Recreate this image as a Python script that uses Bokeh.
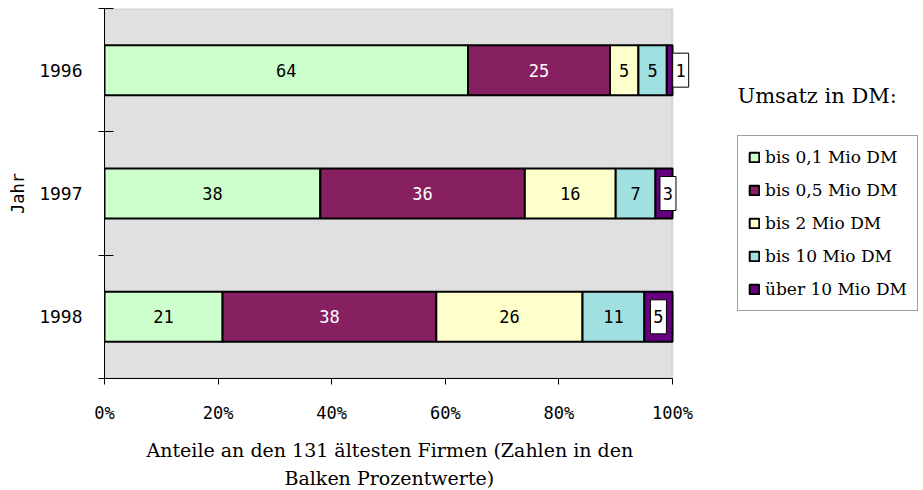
from bokeh.plotting import figure
from bokeh.models import (ColumnDataSource, Legend, LegendItem, FixedTicker,
                          PrintfTickFormatter, Range1d, Label, BoxAnnotation, Title)
from bokeh.embed import file_html
from bokeh.resources import INLINE

# ---------------- data ----------------
years = ["1996", "1997", "1998"]
series = ["bis 0,1 Mio DM", "bis 0,5 Mio DM", "bis 2 Mio DM", "bis 10 Mio DM", "über 10 Mio DM"]
v_01 = [64, 38, 21]
v_05 = [25, 36, 38]
v_2 = [5, 16, 26]
v_10 = [5, 7, 11]
v_over = [1, 3, 5]
x_ticks = [0, 20, 40, 60, 80, 100]
legend_title = "Umsatz in DM:"
x_title_lines = ["Anteile an den 131 ältesten Firmen (Zahlen in den", "Balken Prozentwerte)"]
y_title = "Jahr"

# ---------------- style ----------------
colors = ["#ccffcc", "#862060", "#ffffcc", "#a0e0e0", "#660080"]
text_colors = ["black", "white", "black", "black", "black"]
boxed = [False, False, False, False, True]
box_offset_px = [11, 4, 0]      # screen offset of the small boxed labels
x_title_offset_px = [42, 180]   # left offset of each title line (centres them under 0..100 %)
MONO = "DejaVu Sans Mono"
SERIF = "DejaVu Serif"

W, H = 923, 490
LEFT, TOP, BOTTOM = 104, 8, 112
PLOT_W = 568                     # pixel width of the 0..100 % scale
FW, FH = W - LEFT, H - TOP - BOTTOM
PX = 100 / PLOT_W                # % per pixel
PY = 3 / FH                      # y units per pixel
X_END = FW * PX

values = [v_01, v_05, v_2, v_10, v_over]
ypos = [3, 2, 1]  # 1996 on top
totals = [sum(v[i] for v in values) for i in range(len(years))]

p = figure(frame_width=FW, frame_height=FH, output_backend="svg", toolbar_location=None,
           x_range=Range1d(0, X_END), y_range=Range1d(0.5, 3.5),
           min_border_left=LEFT, min_border_right=0, min_border_top=TOP, min_border_bottom=BOTTOM)
p.background_fill_color = "white"
p.border_fill_color = "white"
p.outline_line_color = None
p.xgrid.visible = False
p.ygrid.visible = False

# gray plot area covering the 0..100 % domain
p.add_layout(BoxAnnotation(left=0, right=100, fill_color="#e0e0e0", fill_alpha=1.0,
                           line_color="#a0a0a0", line_width=2, level="underlay"))

cum = [0.0] * len(years)
items = []
for s, (name, vals) in enumerate(zip(series, values)):
    left = [cum[i] for i in range(len(years))]
    right = [cum[i] + vals[i] / totals[i] * 100 for i in range(len(years))]
    cum = right
    src = ColumnDataSource(dict(y=ypos, left=left, right=right,
                                xc=[(l + r) / 2 for l, r in zip(left, right)],
                                lab=[str(v) for v in vals]))
    r = p.hbar(y="y", left="left", right="right", height=0.405, source=src,
               fill_color=colors[s], line_color="black", line_width=2)
    items.append(LegendItem(label=name, renderers=[r]))
    if boxed[s]:
        bx = [xc + off * PX for xc, off in zip(src.data["xc"], box_offset_px)]
        bsrc = ColumnDataSource(dict(x=bx, y=ypos, lab=src.data["lab"]))
        p.rect(x="x", y="y", width=16, height=34, width_units="screen", height_units="screen",
               source=bsrc, fill_color="white", line_color="black", line_width=1)
        p.text(x="x", y="y", text="lab", source=bsrc, text_align="center", text_baseline="middle",
               text_font={"value": MONO}, text_font_size="17px", text_color="black")
    else:
        p.text(x="xc", y="y", text="lab", source=src, text_align="center", text_baseline="middle",
               text_font={"value": MONO}, text_font_size="17px", text_color=text_colors[s])

# x axis
p.xaxis.bounds = (0, 100)
p.xaxis.ticker = FixedTicker(ticks=x_ticks)
p.xaxis.formatter = PrintfTickFormatter(format="%d%%")
p.xaxis.major_label_text_font = MONO
p.xaxis.major_label_text_font_size = "17px"
p.xaxis.major_label_text_color = "black"
p.xaxis.major_tick_out = 6
p.xaxis.major_tick_in = 0
p.xaxis.major_label_standoff = 18
p.xaxis.minor_tick_line_color = None
p.xaxis.axis_line_color = "black"
p.xaxis.major_tick_line_color = "black"

# spacer, then the two-line x axis title (below the axis)
p.add_layout(Title(text=" ", standoff=5, text_font_size="2px"), "below")
for line, off in zip(x_title_lines, x_title_offset_px):
    p.add_layout(Title(text=line, align="left", offset=off, standoff=4,
                       text_font=SERIF, text_font_size="19px", text_font_style="normal",
                       text_color="black"), "below")

# y axis
p.yaxis.ticker = FixedTicker(ticks=ypos, minor_ticks=[0.5, 1.5, 2.5, 3.5])
p.yaxis.major_label_overrides = {y: yr for y, yr in zip(ypos, years)}
p.yaxis.major_label_text_font = MONO
p.yaxis.major_label_text_font_size = "18px"
p.yaxis.major_label_text_color = "black"
p.yaxis.major_tick_line_color = None
p.yaxis.major_tick_out = 0
p.yaxis.major_tick_in = 0
p.yaxis.major_label_standoff = 16
p.yaxis.minor_tick_line_color = "black"
p.yaxis.minor_tick_out = 6
p.yaxis.minor_tick_in = 9
p.yaxis.axis_line_color = "black"
p.yaxis.axis_label = y_title
p.yaxis.axis_label_text_font = MONO
p.yaxis.axis_label_text_font_size = "17px"
p.yaxis.axis_label_text_font_style = "normal"
p.yaxis.axis_label_text_color = "black"
p.yaxis.axis_label_standoff = 8

# legend (inside the frame, right of the 0..100 % area)
legend = Legend(items=items, location=(633, 67), orientation="vertical",
                glyph_width=12, glyph_height=12, label_height=22, spacing=11,
                padding=10, margin=0, label_standoff=5,
                label_text_font=SERIF, label_text_font_size="17px", label_text_color="black",
                border_line_color="#404040", border_line_width=1,
                background_fill_color="white", background_fill_alpha=1.0)
p.add_layout(legend, "center")

# legend heading
p.add_layout(Label(x=(737 - LEFT) * PX, y=3.5 - (95 - TOP) * PY,
                   text=legend_title, text_font=SERIF, text_font_size="21px",
                   text_baseline="middle", text_align="left", text_color="black"))

open("out.html", "w").write(file_html(p, INLINE))
